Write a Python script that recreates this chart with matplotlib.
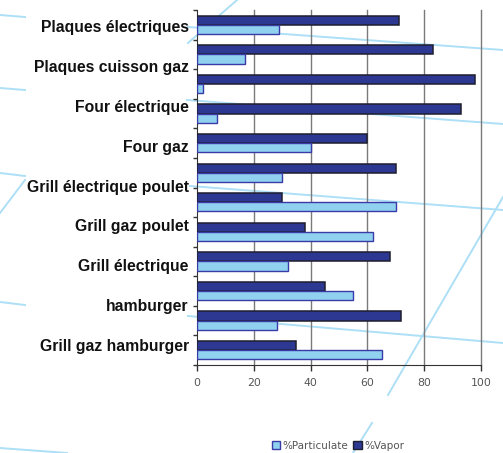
import matplotlib
matplotlib.use("Agg")
import matplotlib.pyplot as plt
from matplotlib.lines import Line2D
from matplotlib.patches import Patch
import numpy as np

# ---- data ----
labels = ["Plaques électriques", "Plaques cuisson gaz", "Four électrique", "Four gaz",
          "Grill électrique poulet", "Grill gaz poulet", "Grill électrique",
          "hamburger", "Grill gaz hamburger"]
vapor = [71, 83, 98, 93, 60, 70, 30, 38, 68, 45, 72, 35]
particulate = [29, 17, 2, 7, 40, 30, 70, 62, 32, 55, 28, 65]
xticks = [0, 20, 40, 60, 80, 100]
series_names = ["%Particulate", "%Vapor"]

# ---- style ----
vapor_fill = "#2c3891"
vapor_edge = "#1e1e2e"
part_fill = "#8fd1ef"
part_edge = "#3a3aa8"
deco = "#addff6"

W, H = 503, 453
fig = plt.figure(figsize=(W / 100, H / 100), dpi=100)
fig.patch.set_facecolor("white")

def px(x, y):
    return (x / W, 1 - y / H)

# decorative background lines (pixel coordinates of the page)
segments = [
    [(0, 15), (25, 17)], [(188, 27), (503, 50)],
    [(0, 88), (25, 90)], [(187, 100), (503, 124)],
    [(0, 173), (25, 176)], [(190, 186), (503, 210)],
    [(0, 302), (25, 305)], [(188, 316), (503, 343)],
    [(0, 448), (67, 453)],
    [(25, 180), (0, 213)],
    [(188, 43), (237, 0)],
    [(503, 197), (388, 395)], [(372, 423), (353, 453)],
]
for seg in segments:
    (x0, y0), (x1, y1) = px(*seg[0]), px(*seg[1])
    fig.add_artist(Line2D([x0, x1], [y0, y1], color=deco, lw=1.4,
                          transform=fig.transFigure, zorder=-5))

left, right = 197 / W, 481 / W
top, bottom = 1 - 10 / H, 1 - 365 / H
ax = fig.add_axes([left, bottom, right - left, top - bottom])
ax.patch.set_alpha(0)

n = len(vapor)
pos = np.arange(n)
h = 0.31
ax.barh(pos - h / 2, vapor, height=h, color=vapor_fill, edgecolor=vapor_edge,
        linewidth=1.1, zorder=3, label=series_names[1])
ax.barh(pos + h / 2, particulate, height=h, color=part_fill, edgecolor=part_edge,
        linewidth=1.0, zorder=3, label=series_names[0])

ax.set_xlim(0, 100)
ax.set_ylim(n - 0.5, -0.5)

ax.set_xticks(xticks)
ax.set_xticklabels([str(t) for t in xticks], fontsize=7.8, color="#555555")
ax.tick_params(axis="x", direction="out", length=4, width=1, color="#333333", pad=5)

# boundaries as major y ticks (no labels), category labels as minor ticks
ax.yaxis.remove_overlapping_locs = False
ax.set_yticks(np.arange(-0.5, n + 0.5, 1.0))
ax.set_yticklabels([])
ax.tick_params(axis="y", which="major", direction="out", length=3, width=1, color="#333333")
lab_pos = np.linspace(0.04, 10.83, len(labels))
ax.set_yticks(lab_pos, minor=True)
ax.set_yticklabels(labels, minor=True, fontsize=11.3, fontweight="bold",
                   family=["Liberation Sans", "DejaVu Sans"], color="#111111")
ax.tick_params(axis="y", which="minor", length=0, pad=6)

for x in xticks[1:]:
    ax.axvline(x, color="#7a7a7a", lw=1.0, zorder=1, clip_on=False)

for s in ["top", "right"]:
    ax.spines[s].set_visible(False)
ax.spines["left"].set_color("#333333")
ax.spines["bottom"].set_color("#333333")

handles = [Patch(facecolor=part_fill, edgecolor=part_edge, lw=1.0),
           Patch(facecolor=vapor_fill, edgecolor=vapor_edge, lw=1.0)]
fig.legend(handles, series_names, loc="center", bbox_to_anchor=px(338, 446),
           ncol=2, frameon=False, fontsize=7.5, handlelength=0.8, handleheight=0.8,
           handletextpad=0.2, columnspacing=0.5, labelcolor="#555555")

fig.savefig("out.png", dpi=100)
